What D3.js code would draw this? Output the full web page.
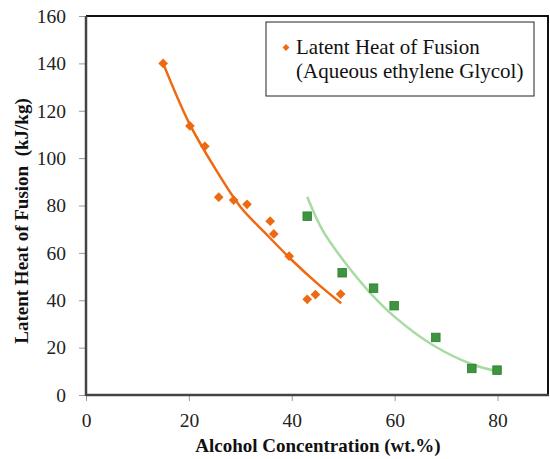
<!DOCTYPE html>
<html><head><meta charset="utf-8">
<script src="https://cdn.jsdelivr.net/npm/d3@7"></script>
<style>body{margin:0;background:#fff}svg{display:block}</style>
</head><body>
<script>
// Data
const xTicks = [0, 20, 40, 60, 80];
const yTicks = [0, 20, 40, 60, 80, 100, 120, 140, 160];
const egX = [15.0, 20.2, 23.1, 25.8, 28.7, 31.3, 35.8, 36.5, 39.5, 43.0, 44.6, 49.5];
const egY = [140, 113.6, 105, 83.5, 82.3, 80.5, 73.4, 68, 58.6, 40.4, 42.4, 42.6];
const egFitX = [15, 20, 25, 30, 35, 40, 45, 49.6];
const egFitY = [140, 115, 96, 79.5, 68, 57, 47, 38.7];
const gX = [43.0, 49.8, 55.9, 59.9, 68.0, 75.0, 79.9];
const gY = [75.5, 51.6, 45.1, 37.7, 24.3, 11.2, 10.5];
const gFitX = [43, 46, 50.5, 55.5, 60, 67.4, 75, 80.4];
const gFitY = [83.7, 69.5, 55.5, 42.5, 33, 21.1, 13, 9.8];
const legendLines = ["Latent Heat of Fusion", "(Aqueous ethylene Glycol)"];
const xTitle = "Alcohol Concentration (wt.%)";
const yTitle = "Latent Heat of Fusion\u00a0\u00a0(kJ/kg)";

const W = 550, H = 459;
const L = 86, R = 549, T = 16, B = 395;
const orange = "#ee6a12", gFill = "#3d963d", gStroke = "#2d7a2d", gLine = "#a8dba2";
const serif = "'Liberation Serif', 'Times New Roman', serif";

const svg = d3.select("body").append("svg").attr("width", W).attr("height", H);
const x = d3.scaleLinear().domain([0, 90]).range([L, R]);
const y = d3.scaleLinear().domain([0, 160]).range([B, T]);

// frame top/right
svg.append("line").attr("x1", L).attr("x2", R).attr("y1", T).attr("y2", T).attr("stroke", "#111").attr("stroke-width", 2);
svg.append("line").attr("x1", R - 1).attr("x2", R - 1).attr("y1", T).attr("y2", B).attr("stroke", "#111").attr("stroke-width", 2);

// axes
const ya = svg.append("g").attr("transform", `translate(${L},0)`)
  .call(d3.axisLeft(y).tickValues(yTicks).tickSize(7).tickPadding(13).tickFormat(d3.format("d")));
const xa = svg.append("g").attr("transform", `translate(0,${B})`)
  .call(d3.axisBottom(x).tickValues(xTicks).tickSize(6).tickPadding(12).tickFormat(d3.format("d")));
[ya, xa].forEach(g => {
  g.attr("font-family", null).attr("font-size", null);
  g.select(".domain").remove();
  g.selectAll(".tick line").attr("stroke", "#999").attr("stroke-width", 1);
  g.selectAll("text").style("font-family", serif).style("font-size", "19.5px").attr("fill", "#222");
});
svg.append("line").attr("x1", L).attr("x2", L).attr("y1", T).attr("y2", B + 1).attr("stroke", "#444").attr("stroke-width", 2.5);
svg.append("line").attr("x1", L).attr("x2", R).attr("y1", B).attr("y2", B).attr("stroke", "#444").attr("stroke-width", 2.5);

// fit curves
const line = d3.line().x(d => x(d[0])).y(d => y(d[1])).curve(d3.curveCatmullRom.alpha(0.5));
svg.append("path").datum(egFitX.map((v, i) => [v, egFitY[i]])).attr("d", line)
  .attr("fill", "none").attr("stroke", orange).attr("stroke-width", 2.5);
svg.append("path").datum(gFitX.map((v, i) => [v, gFitY[i]])).attr("d", line)
  .attr("fill", "none").attr("stroke", gLine).attr("stroke-width", 2.5);

// markers
const diamond = d3.symbol().type(d3.symbolDiamond2).size(60);
svg.append("g").selectAll("path").data(egX.map((v, i) => [v, egY[i]])).join("path")
  .attr("d", diamond).attr("transform", d => `translate(${x(d[0])},${y(d[1])})`)
  .attr("fill", orange);
const s = 8.5;
svg.append("g").selectAll("rect").data(gX.map((v, i) => [v, gY[i]])).join("rect")
  .attr("x", d => x(d[0]) - s / 2).attr("y", d => y(d[1]) - s / 2)
  .attr("width", s).attr("height", s).attr("fill", gFill).attr("stroke", gStroke).attr("stroke-width", 0.8);

// legend
svg.append("rect").attr("x", 266).attr("y", 22).attr("width", 268).attr("height", 74)
  .attr("fill", "#fff").attr("stroke", "#222").attr("stroke-width", 1);
svg.append("path").attr("d", d3.symbol().type(d3.symbolDiamond2).size(30)())
  .attr("transform", "translate(286,47.5)").attr("fill", orange);
svg.append("g").selectAll("text").data(legendLines).join("text")
  .attr("x", 296).attr("y", (d, i) => 54 + i * 24)
  .style("font-family", serif).style("font-size", "21px").attr("fill", "#111").text(d => d);

// titles
svg.append("text").attr("x", 318).attr("y", 452).attr("text-anchor", "middle")
  .style("font-family", serif).style("font-weight", "bold").style("font-size", "19px").attr("fill", "#111").text(xTitle);
svg.append("text").attr("transform", "translate(28,221) rotate(-90)").attr("text-anchor", "middle")
  .style("font-family", serif).style("font-weight", "bold").style("font-size", "19px").attr("fill", "#111").text(yTitle);
</script>
</body></html>
